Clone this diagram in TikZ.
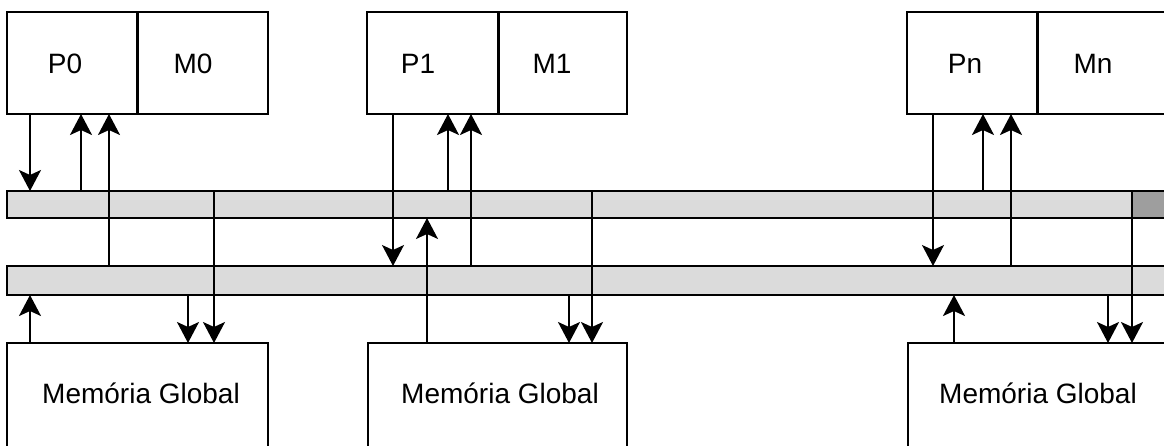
\documentclass[tikz,border=0pt]{standalone}
\usepackage{fontspec}
\setmainfont{Liberation Sans}
\usetikzlibrary{arrows.meta}
\tikzset{
  bighead/.tip={Stealth[length=21pt,width=22pt,inset=5pt]},
  headed/.style={-bighead},
}
\begin{document}
\begin{tikzpicture}[x=1pt,y=-1pt,
  box/.style={draw, line width=2pt, rectangle, anchor=north west, inner sep=0pt, outer sep=0pt},
  bus/.style={draw, line width=2pt, fill=black!14, rectangle, anchor=north west, inner sep=0pt, outer sep=0pt, minimum width=1250pt},
  lbl/.style={font=\fontsize{28}{30}\selectfont, inner sep=0pt, anchor=base},
  wire/.style={line width=2pt},
  midwire/.style={line width=1.5pt},
  thinwire/.style={line width=1.1pt},
]
\path[use as bounding box] (0,0) rectangle (1164,445);
\clip (0,0) rectangle (1164,445);

% processor / memory boxes
\node[box, minimum width=130pt, minimum height=102pt] (P0) at (7,12) {};
\node[box, minimum width=131pt, minimum height=102pt] (M0) at (137,12) {};
\node[box, minimum width=131pt, minimum height=102pt] (P1) at (367,12) {};
\node[box, minimum width=129pt, minimum height=102pt] (M1) at (498,12) {};
\node[box, minimum width=130pt, minimum height=102pt] (Pn) at (907,12) {};
\node[box, minimum width=200pt, minimum height=102pt] (Mn) at (1037,12) {};
\draw[line width=3pt] (P0.north east) -- (P0.south east);
\draw[line width=3pt] (P1.north east) -- (P1.south east);
\draw[line width=3pt] (Pn.north east) -- (Pn.south east);

\node[lbl] (tP0) at (65,73) {P0};
\node[lbl] (tM0) at (193,73) {M0};
\node[lbl] (tP1) at (418,73) {P1};
\node[lbl] (tM1) at (552,73) {M1};
\node[lbl] (tPn) at (965,73) {Pn};
\node[lbl] (tMn) at (1093,73) {Mn};

% buses
\node[bus, minimum height=27pt] (bus1) at (7,191) {};
\node[bus, minimum height=29pt] (bus2) at (7,266) {};
\fill[black!38] (1133,192.2) rectangle (1170,216.8);

% global memories
\node[box, minimum width=261pt, minimum height=150pt] (MG0) at (7,343) {};
\node[box, minimum width=259pt, minimum height=150pt] (MG1) at (368,343) {};
\node[box, minimum width=300pt, minimum height=150pt] (MGn) at (908,343) {};
\node[lbl] (tMG0) at (141,403) {Memória Global};
\node[lbl] (tMG1) at (500,403) {Memória Global};
\node[lbl] (tMGn) at (1038,403) {Memória Global};

% node 0 connectors
\draw[wire,headed] (30,0 |- P0.south) -- (30,0 |- bus1.north);
\draw[wire,headed] (81,0 |- bus1.north) -- (81,0 |- P0.south);
\draw[thinwire] (109,0 |- bus2.north) -- (109,0 |- bus1.north);
\draw[wire,headed] (109,0 |- bus1.north) -- (109,0 |- P0.south);
\draw[thinwire] (214,0 |- bus1.north) -- (214,0 |- bus2.south);
\draw[wire,headed] (214,0 |- bus2.south) -- (214,0 |- MG0.north);
\draw[wire,headed] (188,0 |- bus2.south) -- (188,0 |- MG0.north);
\draw[wire,headed] (30,0 |- MG0.north) -- (30,0 |- bus2.south);

% node 1 connectors
\draw[midwire,headed] (393,0 |- P1.south) -- (393,0 |- bus2.north);
\draw[wire,headed] (448,0 |- bus1.north) -- (448,0 |- P1.south);
\draw[thinwire] (471,0 |- bus2.north) -- (471,0 |- bus1.north);
\draw[wire,headed] (471,0 |- bus1.north) -- (471,0 |- P1.south);
\draw[midwire,headed] (427,0 |- MG1.north) -- (427,0 |- bus1.south);
\draw[thinwire] (592,0 |- bus1.north) -- (592,0 |- bus2.south);
\draw[wire,headed] (592,0 |- bus2.south) -- (592,0 |- MG1.north);
\draw[wire,headed] (569,0 |- bus2.south) -- (569,0 |- MG1.north);

% node n connectors
\draw[midwire,headed] (933,0 |- Pn.south) -- (933,0 |- bus2.north);
\draw[wire,headed] (983,0 |- bus1.north) -- (983,0 |- Pn.south);
\draw[thinwire] (1011,0 |- bus2.north) -- (1011,0 |- bus1.north);
\draw[wire,headed] (1011,0 |- bus1.north) -- (1011,0 |- Pn.south);
\draw[wire,headed] (954,0 |- MGn.north) -- (954,0 |- bus2.south);
\draw[wire,headed] (1108,0 |- bus2.south) -- (1108,0 |- MGn.north);
\draw[wire] (1132,0 |- bus1.north) -- (1132,0 |- bus2.south);
\draw[wire,headed] (1132,0 |- bus2.south) -- (1132,0 |- MGn.north);
\end{tikzpicture}
\end{document}
